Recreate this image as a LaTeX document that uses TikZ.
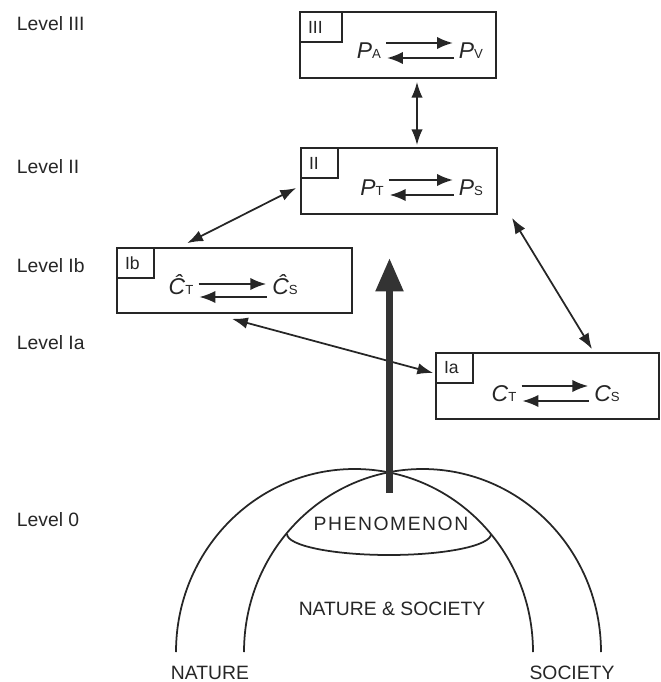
\documentclass[tikz,border=0pt]{standalone}
\usepackage{fontspec}
\setmainfont{Liberation Sans}
\usetikzlibrary{positioning,arrows.meta}

\newcommand{\symb}[2]{\textit{#1}{\fontsize{7.5}{8}\selectfont #2}}

\begin{document}
\begin{tikzpicture}[x=0.02cm, y=-0.02cm, font=\fontsize{11}{13}\selectfont,
	text=black!85, line width=1pt, draw=black!85,
	block/.style = { rectangle, draw, fill=white,
	minimum height=1.32cm, minimum width=3.92cm},
	tag/.style = { rectangle, draw, anchor=north west,
	inner xsep=0.16cm, text width=0.42cm, minimum height=0.6cm,
	font=\fontsize{10}{12}\selectfont},
	symb/.style = { inner sep=1pt, font=\fontsize{13}{15}\selectfont},
	level/.style = { anchor=west, inner sep=0pt},
	fwd/.style = { -{Latex[length=9pt,width=7pt]},
	shorten <=1.5pt, shorten >=2pt},
	back/.style = { {Latex[length=9pt,width=7pt]}-,
	shorten >=1.5pt, shorten <=2pt},
	link/.style = { {Latex[length=9pt,width=6.5pt]}-{Latex[length=9pt,width=6.5pt]} } ]

  \useasboundingbox (0,0) rectangle (661,682);

  \node [name=lviii, level] at (16,24) { Level III };
  \node [name=lvii, level] at (16,167) { Level II };
  \node [name=lvib, level] at (16,266) { Level Ib };
  \node [name=lvia, level] at (16,343) { Level Ia };
  \node [name=lvo, level] at (16,520) { Level 0 };

  \node [name=iii, block] at (398,45) {};
  \node [tag, text width=0.52cm] at (iii.north west) { III };
  \node [name=pa, symb] at (369,51) { \symb{P}{A} };
  \node [name=pv, symb] at (471,51) { \symb{P}{V} };
  \draw [fwd] ([yshift=0.16cm]pa.east) -- ([yshift=0.16cm]pv.west);
  \draw [back] ([yshift=-0.14cm]pa.east) -- ([yshift=-0.14cm]pv.west);

  \node [name=ii, block] at (399,181) {};
  \node [tag] at (ii.north west) { II };
  \node [name=pt, symb] at (372,188) { \symb{P}{T} };
  \node [name=ps, symb] at (471,188) { \symb{P}{S} };
  \draw [fwd] ([yshift=0.16cm]pt.east) -- ([yshift=0.16cm]ps.west);
  \draw [back] ([yshift=-0.14cm]pt.east) -- ([yshift=-0.14cm]ps.west);

  \node [name=ib, block, minimum width=4.7cm, minimum height=1.3cm]
	at (234.5,280.5) {};
  \node [tag] at (ib.north west) { Ib };
  \node [name=cht, symb] at (181,285) { \symb{\^{C}}{T} };
  \node [name=chs, symb] at (285,285) { \symb{\^{C}}{S} };
  \draw [fwd] ([yshift=0.02cm]cht.east) -- ([yshift=0.02cm]chs.west);
  \draw [back] ([yshift=-0.24cm]cht.east) -- ([yshift=-0.24cm]chs.west);

  \node [name=ia, block, minimum width=4.46cm] at (547.5,386) {};
  \node [tag] at (ia.north west) { Ia };
  \node [name=ct, symb] at (504,394) { \symb{C}{T} };
  \node [name=cs, symb] at (607,394) { \symb{C}{S} };
  \draw [fwd] ([yshift=0.16cm]ct.east) -- ([yshift=0.16cm]cs.west);
  \draw [back] ([yshift=-0.14cm]ct.east) -- ([yshift=-0.14cm]cs.west);

  \draw [link] ([xshift=0.38cm,yshift=-0.06cm]iii.south)
	-- ([xshift=0.36cm,yshift=0.04cm]ii.north);
  \draw [link] ([xshift=-0.08cm,yshift=-0.14cm]ii.west)
	-- ([xshift=1.42cm,yshift=0.08cm]ib.north west);
  \draw [link] ([xshift=2.26cm,yshift=-0.06cm]ii.south)
	-- ([xshift=0.89cm,yshift=0.06cm]ia.north);
  \draw [link] ([xshift=-0.05cm,yshift=-0.1cm]ib.south)
	-- ([xshift=-0.04cm,yshift=0.26cm]ia.west);

  \draw (176,652) arc[start angle=180, end angle=360,
	x radius=178.5, y radius=183];
  \draw (244,652) arc[start angle=180, end angle=360,
	x radius=178.5, y radius=183];
  \draw (287,534) arc[start angle=180, end angle=0,
	x radius=102, y radius=21];

  \coordinate (origin) at (389.5,493);
  \coordinate (apex) at (389.5,258);
  \draw [black!80, line width=4pt, -{Triangle[length=19pt,width=15pt]}]
	(origin) -- (apex);

  \node [name=phen, font=\fontsize{11}{13}\selectfont\addfontfeature{LetterSpace=8}]
	at (391,524) { PHENOMENON };
  \node [name=natsoc] at (392,609) { NATURE \& SOCIETY };
  \node [name=nature, anchor=base, inner sep=0pt] at (210,679) { NATURE };
  \node [name=society, anchor=base, inner sep=0pt] at (572,679) { SOCIETY };
\end{tikzpicture}
\end{document}
